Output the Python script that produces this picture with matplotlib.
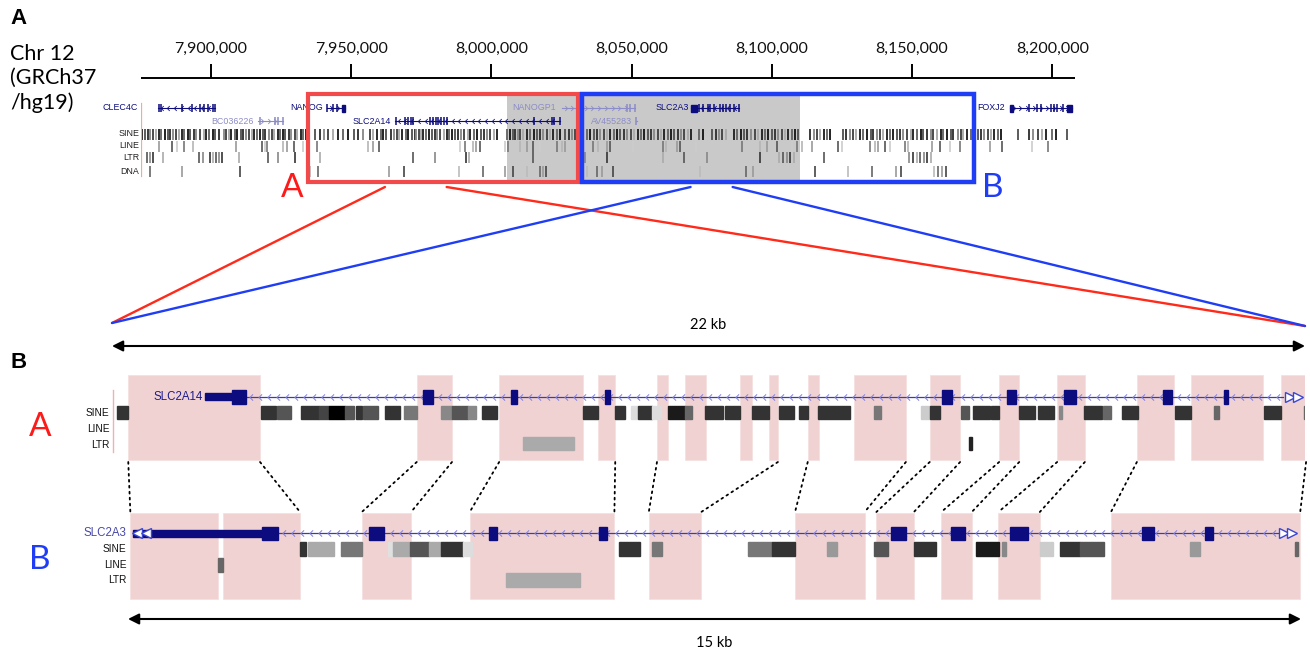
import numpy as np
import matplotlib
matplotlib.use('Agg')
import matplotlib.pyplot as plt
from matplotlib.patches import Rectangle, ConnectionPatch
from matplotlib.path import Path

W, H = 1310, 655

# ---------------- overview: chr12 (hg19), positions in kb ----------------
view_kb = (7875.0, 8208.1)
ruler_ticks = [7900, 7950, 8000, 8050, 8100, 8150, 8200]

gene_names = ['CLEC4C', 'BC036226', 'NANOG', 'SLC2A14', 'NANOGP1', 'AV455283', 'SLC2A3', 'FOXJ2']
gene_start = [7881.1, 7916.8, 7941.5, 7965.6, 8025.1, 8051.4, 8071.2, 8184.9]
gene_end = [7901.4, 7925.7, 7947.8, 8024.5, 8051.2, 8051.8, 8088.3, 8207.2]
gene_strand = ['-', '+', '+', '-', '+', '+', '-', '+']
gene_row = [0, 1, 0, 1, 0, 1, 0, 0]
gene_label_end = [7873.9, 7915.3, 7939.8, 7964.3, 8023.0, 8050.1, 8070.5, 8183.2]
gene_faint = [False, True, False, False, True, True, False, False]
gene_exons = [
    [7881.5, 7882.2, 7889.5, 7893.1, 7896.1, 7897.5, 7898.9, 7900.6, 7901.3],
    [7917.5, 7922.8, 7923.8, 7925.7],
    [7941.5, 7943.6, 7945.0],
    [7966.0, 7969.2, 7970.4, 7971.3, 7972.1, 7978.1, 7979.2, 7980.2, 7981.0,
     7982.0, 7983.0, 7984.0, 8015.2, 8021.5, 8022.3, 8024.5],
    [8048.3, 8049.4, 8051.2],
    [8051.6],
    [8074.0, 8075.4, 8077.2, 8078.1, 8079.2, 8081.5, 8082.6, 8083.5, 8085.1, 8086.5, 8088.3],
    [8191.7, 8194.7, 8195.9, 8199.5, 8200.5, 8201.6, 8203.8],
]
gene_thick = [[], [], [(7946.6, 7947.8)], [], [], [], [(8071.2, 8073.3)],
              [(8184.9, 8186.0), (8205.2, 8207.2)]]

sine_kb = [7875.4, 7876.3, 7877.5, 7878.3, 7879.4, 7880.2, 7881.3, 7882.0, 7883.4, 7884.6,
           7885.3, 7886.5, 7887.6, 7888.4, 7889.7, 7890.5, 7891.8, 7892.6, 7893.9, 7894.7,
           7895.9, 7897.3, 7898.1, 7899.4, 7900.6, 7901.5, 7902.9, 7904.5, 7905.3, 7906.4,
           7907.2, 7908.5, 7909.3, 7910.6, 7911.4, 7912.5, 7913.4, 7914.6, 7915.3, 7916.5,
           7917.3, 7918.6, 7919.4, 7920.5, 7921.7, 7922.5, 7923.8, 7924.6, 7925.7, 7926.5,
           7927.8, 7928.6, 7929.9, 7930.7, 7931.9, 7932.8, 7934.0,
           7937.1, 7938.9, 7940.4, 7941.8, 7943.6, 7945.4, 7947.2, 7949.0, 7950.8, 7952.5,
           7954.3, 7956.7, 7957.9, 7959.3,
           7960.5, 7961.4, 7962.3, 7964.0, 7965.1, 7966.2, 7966.9, 7968.0, 7969.5, 7970.4,
           7971.6, 7972.6, 7973.1, 7974.0, 7974.7, 7975.5, 7976.5, 7977.6, 7978.8, 7979.7,
           7980.6, 7981.8, 7983.0, 7984.2, 7985.0, 7986.0, 7987.0, 7988.2, 7989.3, 7990.3,
           7991.7, 7992.5, 7993.7, 7994.9, 7996.1, 7997.3, 7998.4, 7999.6, 8000.8, 8002.0,
           8005.5, 8006.6, 8007.6, 8008.5, 8009.3, 8010.2, 8011.4, 8012.6, 8013.8, 8015.0,
           8016.2, 8017.3, 8018.5, 8019.7, 8020.9, 8022.1, 8023.3, 8024.5, 8026.3, 8027.5,
           8028.7, 8029.9, 8031.6, 8032.8, 8034.0, 8035.2, 8036.4, 8037.6, 8038.8, 8040.0,
           8041.2, 8042.4, 8043.6, 8044.9, 8046.0, 8047.1, 8048.5, 8049.6, 8050.7, 8052.1,
           8053.2, 8054.3, 8055.7, 8056.8, 8057.9, 8059.3, 8060.4, 8061.5, 8062.9, 8064.0,
           8065.1, 8066.5, 8067.6, 8068.7, 8070.1, 8071.2, 8074.0, 8075.4, 8078.8, 8080.1,
           8081.2, 8082.3, 8083.7, 8086.6, 8087.7, 8089.1, 8090.2, 8091.3, 8092.7, 8093.8,
           8094.9, 8096.3, 8097.4, 8098.5, 8099.9, 8101.0, 8102.1, 8103.5, 8104.6, 8105.7,
           8107.1, 8108.2, 8109.4, 8113.6, 8114.9, 8116.0, 8117.1, 8118.5, 8119.6, 8120.8,
           8125.4, 8126.6, 8127.8,
           8129.0, 8130.1, 8131.5, 8132.4, 8133.8, 8135.2, 8136.0, 8137.4, 8138.6, 8139.5,
           8140.9, 8142.3, 8143.1, 8144.6, 8145.8, 8146.7, 8148.1, 8149.5, 8150.3, 8151.8,
           8153.0, 8153.9, 8155.3, 8156.7, 8157.5, 8159.0, 8160.2, 8161.1, 8162.5, 8163.9,
           8164.7, 8166.2, 8167.4, 8168.3, 8169.7, 8171.1, 8172.0, 8173.4, 8174.6, 8175.5,
           8176.9, 8178.3, 8179.1, 8180.6, 8181.8,
           8187.8, 8191.6, 8193.0, 8194.8, 8196.3, 8197.9, 8199.9, 8201.4, 8205.3]
line_kb = [7881.5, 7886.1, 7887.9, 7890.4, 7893.6, 7908.9, 7918.2, 7919.3, 7920.0, 7925.7,
           7927.1, 7929.6, 7932.8, 7937.8, 7956.0, 7957.8, 7959.9, 7988.8, 7990.6, 7993.4,
           7994.5, 7995.9, 8004.8, 8005.9, 8010.2, 8012.7, 8014.8, 8017.3, 8023.4, 8025.2,
           8026.2, 8030.9, 8032.7, 8036.2, 8038.0, 8041.2, 8042.3, 8050.5, 8061.2, 8062.3,
           8066.2, 8067.2, 8073.0, 8089.4, 8095.8, 8098.3, 8101.8, 8107.2, 8109.0, 8110.8,
           8114.3, 8123.6, 8125.0, 8135.0, 8136.8, 8137.9, 8140.3, 8142.1, 8147.5, 8148.6,
           8157.1, 8160.0, 8163.5, 8167.1, 8171.7, 8177.8, 8182.1, 8192.8, 8198.5]
ltr_kb = [7877.2, 7878.2, 7879.3, 7882.9, 7895.7, 7897.1, 7899.6, 7900.7, 7901.8, 7902.9,
          7903.9, 7910.0, 7920.3, 7923.9, 7930.0, 7938.9, 7972.0, 7979.9, 7990.9, 7992.0,
          8014.8, 8033.4, 8041.2, 8061.2, 8068.7, 8076.9, 8095.8, 8102.5, 8104.0, 8105.4,
          8106.5, 8107.9, 8118.6, 8148.9, 8150.3, 8151.8, 8152.8, 8154.3, 8155.3, 8156.8]
dna_kb = [7878.2, 7889.7, 7910.3, 7935.3, 7938.2, 7963.5, 7968.8, 7988.4, 7997.0, 8004.8,
          8007.7, 8012.7, 8017.3, 8018.4, 8019.5, 8034.1, 8037.6, 8039.4, 8043.4, 8074.4,
          8090.8, 8093.3, 8115.4, 8127.2, 8135.7, 8144.3, 8146.1, 8157.8, 8159.2, 8160.7,
          8162.1]

box_a = (7934.6, 8030.9)
box_b = (8032.3, 8172.1)
highlight = (8005.6, 8110.0)
region_a = (7962.0, 7984.0)   # 22 kb
region_b = (8071.0, 8086.0)   # 15 kb

# ---------------- detail A: SLC2A14 (kb from region start) ----------------
cons_a = [(0.30, 2.73), (5.62, 6.27), (7.14, 8.69), (8.96, 9.28), (10.05, 10.25), (10.57, 10.95),
          (11.58, 11.80), (12.12, 12.28), (12.83, 13.04), (13.68, 14.64), (15.08, 15.64),
          (16.36, 16.73), (17.43, 17.94), (18.90, 19.58), (19.90, 21.23), (21.56, 22.02)]
utr_a = (1.72, 2.21)
exons_a = [(2.21, 2.47), (5.74, 5.92), (7.36, 7.47), (9.09, 9.18), (15.31, 15.49),
           (16.50, 16.67), (17.56, 17.78), (19.38, 19.55), (20.51, 20.58)]
intron_a = (2.47, 21.60)
sine_a = [(0.09, 0.30, '#333333'), (2.75, 3.02, '#333333'), (3.04, 3.30, '#555555'),
          (3.49, 3.82, '#333333'), (3.82, 4.00, '#444444'), (4.00, 4.30, '#000000'),
          (4.30, 4.46, '#555555'), (4.50, 4.61, '#333333'), (4.63, 4.91, '#555555'),
          (5.03, 5.31, '#333333'), (5.38, 5.62, '#777777'), (6.07, 6.27, '#888888'),
          (6.27, 6.56, '#555555'), (6.56, 6.71, '#888888'), (6.82, 7.10, '#333333'),
          (8.69, 8.96, '#333333'), (9.28, 9.46, '#333333'), (9.57, 9.70, '#dddddd'),
          (9.70, 9.96, '#333333'), (9.96, 10.12, '#dddddd'), (10.25, 10.57, '#1a1a1a'),
          (10.57, 10.70, '#666666'), (10.94, 11.27, '#333333'), (11.30, 11.58, '#333333'),
          (11.80, 12.12, '#333333'), (12.30, 12.58, '#333333'), (12.67, 12.83, '#333333'),
          (13.02, 13.61, '#333333'), (14.05, 14.18, '#777777'), (14.92, 15.08, '#cccccc'),
          (15.08, 15.27, '#333333'), (15.66, 15.80, '#555555'), (15.88, 16.19, '#333333'),
          (16.21, 16.36, '#333333'), (16.73, 17.02, '#333333'), (17.08, 17.37, '#333333'),
          (17.46, 17.52, '#888888'), (17.92, 18.26, '#333333'), (18.28, 18.42, '#666666'),
          (18.63, 18.92, '#333333'), (19.60, 19.90, '#333333'), (20.32, 20.41, '#666666'),
          (21.24, 21.56, '#333333'), (21.98, 22.04, '#666666')]
line_a = []
ltr_a = [(7.58, 8.52, '#aaaaaa'), (15.80, 15.86, '#222222')]

# ---------------- detail B: SLC2A3 ----------------
cons_b = [(0.03, 1.15), (1.21, 2.20), (2.99, 3.62), (4.37, 6.22), (6.66, 7.33), (8.53, 9.42),
          (9.57, 10.05), (10.40, 10.79), (11.13, 11.66), (12.57, 14.99)]
utr_b = (0.06, 1.71)
exons_b = [(1.71, 1.92), (3.08, 3.27), (4.62, 4.72), (6.02, 6.13), (9.76, 9.95),
           (10.52, 10.70), (11.28, 11.51), (12.97, 13.12), (13.77, 13.88)]
intron_b = (1.92, 14.74)
sine_b = [(2.20, 2.28, '#333333'), (2.30, 2.63, '#aaaaaa'), (2.72, 2.99, '#777777'),
          (3.32, 3.39, '#e0e0e0'), (3.39, 3.61, '#aaaaaa'), (3.61, 3.85, '#555555'),
          (3.85, 4.00, '#aaaaaa'), (4.00, 4.28, '#333333'), (4.28, 4.40, '#dddddd'),
          (6.28, 6.55, '#333333'), (6.70, 6.83, '#777777'), (7.93, 8.24, '#777777'),
          (8.24, 8.53, '#333333'), (8.94, 9.07, '#999999'), (9.54, 9.72, '#555555'),
          (10.05, 10.33, '#333333'), (10.84, 11.14, '#1a1a1a'), (11.18, 11.23, '#888888'),
          (11.66, 11.83, '#cccccc'), (11.92, 12.17, '#333333'), (12.17, 12.48, '#555555'),
          (13.58, 13.71, '#999999'), (14.92, 14.96, '#666666')]
line_b = [(1.15, 1.21, '#666666')]
ltr_b = [(4.83, 5.78, '#aaaaaa')]

# conserved block edges in A (kb) linked to edges in B (kb)
links = [(0.30, 0.03), (2.73, 2.20), (5.62, 2.99), (6.27, 3.62), (7.14, 4.37), (9.28, 6.22),
         (10.05, 6.66), (12.28, 7.33), (12.83, 8.53), (14.64, 9.42), (15.08, 9.57),
         (15.64, 10.05), (16.36, 10.40), (16.73, 10.79), (17.43, 11.13), (17.94, 11.66),
         (18.90, 12.57), (22.02, 14.99)]

# ---------------------------------------------------------------------------
NAVY = '#0c0c7e'
FAINT = '#8c8cc8'
PINK = '#f1d2d2'
UCSC = 'Liberation Sans'
CAL = 'Lato'

chev_l = Path([(0.5, 1.0), (-0.5, 0.0), (0.5, -1.0)], [Path.MOVETO, Path.LINETO, Path.LINETO])
chev_r = Path([(-0.5, 1.0), (0.5, 0.0), (-0.5, -1.0)], [Path.MOVETO, Path.LINETO, Path.LINETO])

fig = plt.figure(figsize=(W / 100, H / 100), dpi=100)


def px_axes(x0, x1, y0, y1):
    ax = fig.add_axes([x0 / W, 1 - y1 / H, (x1 - x0) / W, (y1 - y0) / H])
    ax.set_axis_off()
    return ax


def fig_text(x, y, s, **kw):
    fig.text(x / W, 1 - y / H, s, **kw)


# ---------------- overview panel ----------------
ax = px_axes(141, 1075, 30, 205)
ax.set_xlim(view_kb)
ax.set_ylim(205, 30)

ax.plot(view_kb, [78, 78], color='black', lw=1.4, solid_capstyle='butt')
ax.vlines(ruler_ticks, 64, 78, color='black', lw=1.4)
for t in ruler_ticks:
    ax.text(t, 49, f'{t * 1000:,}', ha='center', va='center', fontsize=11.5,
            family=CAL, color='#111111')

ax.add_patch(Rectangle((highlight[0], 95), highlight[1] - highlight[0], 86,
                       fc='#c9c9c9', ec='none', zorder=0))

row_y = [108, 121]
for i, name in enumerate(gene_names):
    y = row_y[gene_row[i]]
    c = FAINT if gene_faint[i] else NAVY
    s, e = gene_start[i], gene_end[i]
    ax.plot([s, e], [y, y], color=c, lw=0.8, zorder=3)
    if e - s > 4:
        pos = np.arange(s + 1.3, e - 0.8, 2.4)
        ax.plot(pos, np.full(len(pos), y), ls='none', color=c, lw=0.6,
                marker=chev_l if gene_strand[i] == '-' else chev_r,
                ms=3.5, mfc='none', mec=c, mew=0.6, zorder=3)
    ax.vlines(gene_exons[i], y - 4, y + 4, color=c, lw=1.1, zorder=4)
    for a, b in gene_thick[i]:
        ax.add_patch(Rectangle((a, y - 3.5), b - a, 7, color=c, zorder=4))
    ax.text(gene_label_end[i], y, name, ha='right', va='center', fontsize=6.4,
            family=UCSC, color=c, clip_on=False)

shades = ['#1a1a1a', '#555555', '#333333', '#8a8a8a', '#444444', '#aaaaaa', '#222222', '#666666']
light = ['#9a9a9a', '#555555', '#cccccc', '#777777', '#b5b5b5']
tracks = [('SINE', sine_kb, 134, shades, 1.35), ('LINE', line_kb, 146, light, 1.2),
          ('LTR', ltr_kb, 157, ['#555555', '#888888', '#333333', '#aaaaaa'], 1.2),
          ('DNA', dna_kb, 171, ['#666666', '#999999', '#444444', '#bbbbbb'], 1.2)]
for label, pos, y, cols, lw in tracks:
    ax.vlines(pos, y - 5.5, y + 5.5, colors=[cols[k % len(cols)] for k in range(len(pos))],
              lw=lw, zorder=2)
    ax.text(7874.3, y, label, ha='right', va='center', fontsize=6.4, family=UCSC,
            color='#222222', clip_on=False)
ax.plot([7875.1, 7875.1], [103, 176], color='#f2a6a6', lw=0.9)

ax.add_patch(Rectangle((box_a[0], 94), box_a[1] - box_a[0], 88, fill=False,
                       ec='#f24a4a', lw=3.0, zorder=6))
ax.add_patch(Rectangle((box_b[0], 94), box_b[1] - box_b[0], 88, fill=False,
                       ec='#1f3df5', lw=3.2, zorder=6))
ax_top = ax

# ---------------- detail A ----------------
ax = px_axes(112, 1305, 300, 465)
ax.set_xlim(0, 22)
ax.set_ylim(465, 300)
ax.annotate('', xy=(22, 346), xytext=(0, 346),
            arrowprops=dict(arrowstyle='<|-|>', color='black', lw=1.5,
                            mutation_scale=16, shrinkA=0, shrinkB=0))
ax.text(11, 325, '22 kb', ha='center', va='center', fontsize=10.5, family=CAL)
for s, e in cons_a:
    ax.add_patch(Rectangle((s, 375), e - s, 85, fc=PINK, ec='#f6e0e0', lw=0.6, zorder=0))
ax.plot([0.02, 0.02], [390, 452], color='#f2b0b0', lw=1)
ax.plot(intron_a, [397, 397], color='#3c3ca8', lw=0.9, zorder=2)
pos = np.arange(intron_a[0] + 0.1, intron_a[1], 0.166)
ax.plot(pos, np.full(len(pos), 397), ls='none', marker=chev_l, ms=4.5, mfc='none',
        mec='#8080e0', mew=0.7, zorder=2)
ax.add_patch(Rectangle((utr_a[0], 393.5), utr_a[1] - utr_a[0], 7, color=NAVY, zorder=3))
for s, e in exons_a:
    ax.add_patch(Rectangle((s, 390), e - s, 14, color=NAVY, zorder=3))
ax.plot([intron_a[1] + 0.12, intron_a[1] + 0.27], [397, 397], ls='none', marker='>', ms=7,
        mfc='white', mec='#3a46d0', mew=1.0, zorder=4)
ax.annotate('SLC2A14', xy=(utr_a[0], 397), xytext=(-2, 0), textcoords='offset points',
            ha='right', va='center', fontsize=8.3, family=UCSC, color='#1c1c8c')
for rows, y in [(sine_a, 413), (line_a, 429), (ltr_a, 444)]:
    for s, e, c in rows:
        ax.add_patch(Rectangle((s, y - 6.5), e - s, 13, color=c, zorder=2))
for label, y in [('SINE', 413), ('LINE', 429), ('LTR', 445)]:
    ax.annotate(label, xy=(0, y), xytext=(-2, 0), textcoords='offset points',
                ha='right', va='center', fontsize=7.3, family=UCSC, color='#111111')
ax_a = ax

# ---------------- detail B ----------------
ax = px_axes(128, 1301, 505, 655)
ax.set_xlim(0, 15)
ax.set_ylim(655, 505)
ax.annotate('', xy=(15, 619), xytext=(0, 619),
            arrowprops=dict(arrowstyle='<|-|>', color='black', lw=1.5,
                            mutation_scale=16, shrinkA=0, shrinkB=0))
ax.text(7.5, 643, '15 kb', ha='center', va='center', fontsize=10.5, family=CAL)
for s, e in cons_b:
    ax.add_patch(Rectangle((s, 513), e - s, 86, fc=PINK, ec='#f6e0e0', lw=0.6, zorder=0))
ax.plot(intron_b, [533.5, 533.5], color='#3c3ca8', lw=0.9, zorder=2)
pos = np.arange(intron_b[0] + 0.08, intron_b[1] - 0.05, 0.115)
ax.plot(pos, np.full(len(pos), 533.5), ls='none', marker=chev_l, ms=4.5, mfc='none',
        mec='#8080e0', mew=0.7, zorder=2)
ax.add_patch(Rectangle((utr_b[0], 530), utr_b[1] - utr_b[0], 7, color=NAVY, zorder=3))
for s, e in exons_b:
    ax.add_patch(Rectangle((s, 527), e - s, 13, color=NAVY, zorder=3))
ax.plot([utr_b[0] + 0.06, utr_b[0] + 0.17], [533.5, 533.5], ls='none', marker='<', ms=6.5,
        mfc='white', mec='#3a46d0', mew=1.0, zorder=4)
ax.plot([intron_b[1] + 0.04, intron_b[1] + 0.14], [533.5, 533.5], ls='none', marker='>',
        ms=7, mfc='white', mec='#3a46d0', mew=1.0, zorder=4)
ax.annotate('SLC2A3', xy=(0, 533.5), xytext=(-1, 0), textcoords='offset points',
            ha='right', va='center', fontsize=8.3, family=UCSC, color='#4848a8')
for rows, y in [(sine_b, 549), (line_b, 565), (ltr_b, 580)]:
    for s, e, c in rows:
        ax.add_patch(Rectangle((s, y - 7), e - s, 14, color=c, zorder=2))
for label, y in [('SINE', 549), ('LINE', 565), ('LTR', 580)]:
    ax.annotate(label, xy=(0, y), xytext=(-1, 0), textcoords='offset points',
                ha='right', va='center', fontsize=7.3, family=UCSC, color='#111111')
ax_b = ax

# ---------------- connectors ----------------
for a, b in links:
    fig.add_artist(ConnectionPatch(xyA=(a, 462), coordsA=ax_a.transData,
                                   xyB=(b, 512), coordsB=ax_b.transData,
                                   color='black', lw=1.3, ls=(0, (1, 2.3))))

for (r0, r1), col in [(region_a, '#ff2a1a'), (region_b, '#1f3df5')]:
    fig.add_artist(ConnectionPatch(xyA=(r0, 187), coordsA=ax_top.transData,
                                   xyB=(0, 323), coordsB=ax_a.transData, color=col, lw=1.7))
    fig.add_artist(ConnectionPatch(xyA=(r1, 187), coordsA=ax_top.transData,
                                   xyB=(22, 326), coordsB=ax_a.transData, color=col, lw=1.7))

# ---------------- labels ----------------
fig_text(10, 19, 'A', fontsize=16, fontweight='bold', family=UCSC, va='center')
fig_text(10, 44, 'Chr 12\n(GRCh37\n/hg19)', fontsize=15.5, family=CAL, va='top',
         linespacing=1.25)
fig_text(292, 188, 'A', fontsize=24, family=CAL, color='#ff1a1a', ha='center', va='center')
fig_text(993, 188, 'B', fontsize=24, family=CAL, color='#1f3df5', ha='center', va='center')
fig_text(10, 363, 'B', fontsize=16, fontweight='bold', family=UCSC, va='center')
fig_text(40, 427, 'A', fontsize=24, family=CAL, color='#ff1a1a', ha='center', va='center')
fig_text(40, 560, 'B', fontsize=24, family=CAL, color='#1f3df5', ha='center', va='center')

fig.savefig('out.png', dpi=100)
